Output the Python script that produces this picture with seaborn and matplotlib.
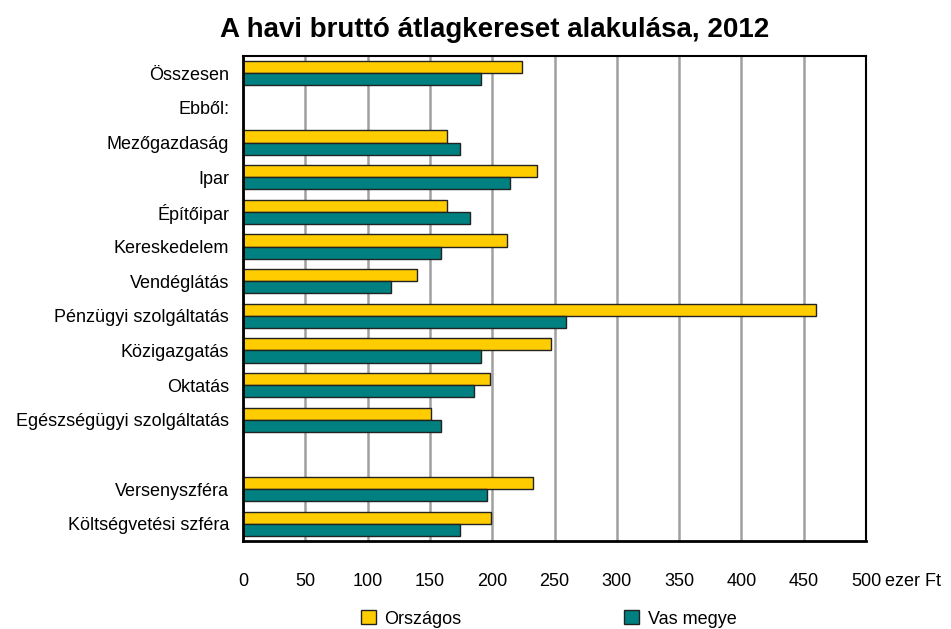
import pandas as pd
import numpy as np

import matplotlib.pyplot as plt
import seaborn as sns

# ---- data (ezer Ft) ----
categories = ["Összesen", "Ebből:", "Mezőgazdaság", "Ipar", "Építőipar", "Kereskedelem",
              "Vendéglátás", "Pénzügyi szolgáltatás", "Közigazgatás", "Oktatás",
              "Egészségügyi szolgáltatás", " ", "Versenyszféra", "Költségvetési szféra"]
bar_categories = ["Összesen", "Mezőgazdaság", "Ipar", "Építőipar", "Kereskedelem",
                  "Vendéglátás", "Pénzügyi szolgáltatás", "Közigazgatás", "Oktatás",
                  "Egészségügyi szolgáltatás", "Versenyszféra", "Költségvetési szféra"]
orszagos = [224, 164, 236, 164, 212, 140, 460, 247, 198, 151, 233, 199]
vas_megye = [191, 174, 214, 182, 159, 119, 259, 191, 185, 159, 196, 174]
series = ["Országos", "Vas megye"]
x_ticks = [0, 50, 100, 150, 200, 250, 300, 350, 400, 450, 500]
x_tick_labels = ["0", "50", "100", "150", "200", "250", "300", "350", "400", "450", "500"]
unit = " ezer Ft"

df = pd.DataFrame({"Ágazat": bar_categories * 2,
                   "Érték": orszagos + vas_megye,
                   "Terület": [series[0]] * len(bar_categories) + [series[1]] * len(bar_categories)})

sns.set_theme(style="white")
plt.rcParams["font.family"] = ["Liberation Sans", "DejaVu Sans"]
plt.rcParams["text.color"] = "black"
plt.rcParams["xtick.color"] = "black"
plt.rcParams["ytick.color"] = "black"

fig = plt.figure(figsize=(9.51, 6.29), dpi=100)
ax = fig.add_axes([243 / 951, 1 - 541 / 629, (866 - 243) / 951, (541 - 56) / 629])

# vertical grid behind the bars
ax.set_axisbelow(True)
ax.grid(axis="x", color="#a0a0a0", linewidth=1.8)

sns.barplot(data=df, x="Érték", y="Ágazat", hue="Terület", order=categories,
            hue_order=series, palette=["#FFCC00", "#008080"], width=0.7,
            edgecolor="#222222", linewidth=1.0, saturation=1, ax=ax)

ax.set_xlim(0, 500)
ax.set_ylim(len(categories) - 0.5, -0.5)
ax.set_xticks(x_ticks)
ax.set_xticklabels(x_tick_labels, fontsize=13)
ax.tick_params(axis="x", length=0, pad=23)
ax.tick_params(axis="y", length=0, pad=10, labelsize=13)
ax.set_xlabel("")
ax.set_ylabel("")

# unit after the last tick label
ax.annotate(unit, xy=(500, 0), xycoords=("data", "axes fraction"),
            xytext=(10, -23), textcoords="offset points",
            ha="left", va="top", fontsize=13)

for side in ["left", "bottom", "top", "right"]:
    ax.spines[side].set_visible(True)
    ax.spines[side].set_color("black")
ax.spines["left"].set_linewidth(2)
ax.spines["bottom"].set_linewidth(2)
ax.spines["top"].set_linewidth(1.5)
ax.spines["right"].set_linewidth(1.5)

fig.text(0.52, 1 - 30 / 629, "A havi bruttó átlagkereset alakulása, 2012",
         ha="center", va="center", fontsize=20, fontweight="bold")

# legend at the bottom
handles, labels = ax.get_legend_handles_labels()
ax.legend_.remove()
fig.legend(handles, labels, loc="center", bbox_to_anchor=(0.577, 1 - 619 / 629),
           ncol=2, frameon=False, fontsize=13, columnspacing=9,
           handlelength=0.8, handleheight=0.8, handletextpad=0.5)

fig.savefig("out.png", dpi=100)
